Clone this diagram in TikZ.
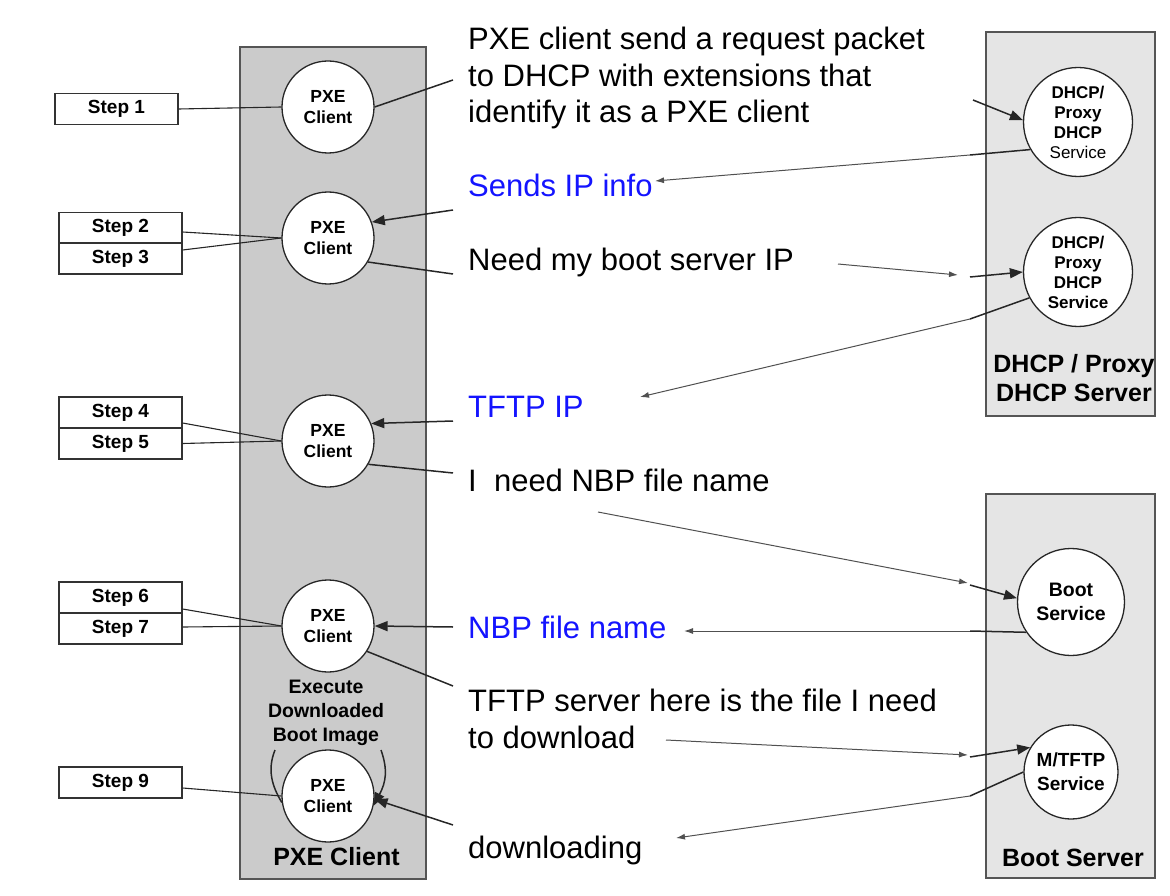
\documentclass[tikz,border=0pt]{standalone}
\usepackage{fontspec}
\setmainfont{Liberation Sans}
\usetikzlibrary{arrows.meta,shapes.geometric,calc}
\definecolor{pxefill}{HTML}{CBCBCB}
\definecolor{srvfill}{HTML}{E5E5E5}
\definecolor{boxline}{HTML}{555555}
\definecolor{msgblue}{HTML}{1414FF}
\definecolor{greyln}{HTML}{505050}
\tikzset{
  panel/.style={draw=boxline, line width=1.5pt},
  client/.style={circle, draw=black!85, fill=white, line width=1.3pt, minimum size=92pt, inner sep=0pt, align=center, font=\bfseries\fontsize{17.5}{21}\selectfont},
  svc/.style={circle, draw=black!85, fill=white, line width=1.3pt, inner sep=0pt, align=center},
  stepbox/.style={draw=black!80, fill=white, line width=1.3pt, minimum width=123pt, minimum height=31pt, inner sep=0pt, font=\bfseries\fontsize{19}{21}\selectfont},
  msg/.style={anchor=base west, inner sep=0pt, font=\fontsize{31}{36}\selectfont},
  bluemsg/.style={msg, text=msgblue},
  plabel/.style={anchor=base, inner sep=0pt, font=\bfseries\fontsize{25}{28}\selectfont},
  steplink/.style={line width=1.1pt, black!85},
  link/.style={line width=1.5pt, black!85},
  larrow/.style={link, -{Triangle[length=13pt,width=10pt]}},
  garrow/.style={line width=1pt, greyln, -{Latex[length=9pt,width=6pt]}},
}
\begin{document}
\begin{tikzpicture}[x=1pt,y=-1pt]
\useasboundingbox (0,0) rectangle (1170,896);
% panels
\draw[panel, fill=pxefill] (240,47) rectangle (426,879);
\draw[panel, fill=srvfill] (986,32) rectangle (1155,416);
\draw[panel, fill=srvfill] (986,494) rectangle (1155,878);
% panel labels
\node[plabel] (lpxe) at (336.5,865) {PXE Client};
\node[plabel] (ldhcp1) at (1074,372) {DHCP / Proxy};
\node[plabel] (ldhcp2) at (1074,401) {DHCP Server};
\node[plabel] (lboot) at (1073,866) {Boot Server};
\node[inner sep=0pt, align=center, font=\bfseries\fontsize{19.5}{24}\selectfont, anchor=north] (exec) at (326,680) {Execute\\Downloaded\\Boot Image};
% client circles
\node[client] (c1) at (328,107) {PXE\\Client};
\node[client] (c2) at (328,238) {PXE\\Client};
\node[client] (c3) at (328,441) {PXE\\Client};
\node[client] (c4) at (328,626) {PXE\\Client};
\node[client] (c5) at (328,796) {PXE\\Client};
% server circles
\node[svc, minimum size=109pt, font=\bfseries\fontsize{17}{20}\selectfont] (d1) at (1078,122) {DHCP/\\Proxy\\DHCP\\{\mdseries Service}};
\node[svc, minimum size=109pt, font=\bfseries\fontsize{17}{20}\selectfont] (d2) at (1078,272) {DHCP/\\Proxy\\DHCP\\Service};
\node[svc, minimum size=107pt, font=\bfseries\fontsize{19.5}{24}\selectfont] (boot) at (1071,602) {Boot\\Service};
\node[svc, minimum size=94pt, font=\bfseries\fontsize{19}{24}\selectfont] (mtftp) at (1071,772) {M/TFTP\\Service};
% steps
\node[stepbox] (s1) at (116.5,109) {Step 1};
\node[stepbox] (s2) at (120.5,228) {Step 2};
\node[stepbox] (s3) at (120.5,258.5) {Step 3};
\node[stepbox] (s4) at (120.5,412.5) {Step 4};
\node[stepbox] (s5) at (120.5,443.5) {Step 5};
\node[stepbox] (s6) at (120.5,597.5) {Step 6};
\node[stepbox] (s7) at (120.5,628.5) {Step 7};
\node[stepbox] (s9) at (120.5,782.5) {Step 9};
\draw[steplink] (s1.east) -- (c1.west);
\draw[steplink] ($(s2.east)+(0,4)$) -- (c2.west);
\draw[steplink] ($(s3.east)+(0,-8.5)$) -- (c2.west);
\draw[steplink] ($(s4.east)+(0,10.5)$) -- (c3.west);
\draw[steplink] (s5.east) -- (c3.west);
\draw[steplink] ($(s6.east)+(0,11.5)$) -- (c4.west);
\draw[steplink] ($(s7.east)+(0,-1.5)$) -- (c4.west);
\draw[steplink] ($(s9.east)+(0,5.5)$) -- (c5.west);
% messages
\node[msg] (m1a) at (468,50) {PXE client send a request packet};
\node[msg] (m1b) at (468,87) {to DHCP with extensions that};
\node[msg] (m1c) at (468,123) {identify it as a PXE client};
\node[bluemsg] (m2) at (468,197) {Sends IP info};
\node[msg] (m3) at (468,270) {Need my boot server IP};
\node[bluemsg] (m4) at (468,417) {TFTP IP};
\node[msg] (m5) at (468,491) {I~~need NBP file name};
\node[bluemsg] (m6) at (468,638) {NBP file name};
\node[msg] (m7a) at (468,711) {TFTP server here is the file I need};
\node[msg] (m7b) at (468,748) {to download};
\node[msg] (m8) at (468,858) {downloading};
% free-end coordinates near the texts
\coordinate (a1) at (453,80);
\coordinate (a2i) at (453,210);
\coordinate (a2o) at (453,274);
\coordinate (a3i) at (453,421);
\coordinate (a3o) at (453,473);
\coordinate (a4i) at (453,627);
\coordinate (a4o) at (453,686);
\coordinate (a5i) at (453,825);
\coordinate (b1) at (973,100);
\coordinate (b2) at (970,155);
\coordinate (b2t) at (655,181);
\coordinate (b3s) at (838,264);
\coordinate (b3e) at (958,275);
\coordinate (b3) at (970,277);
\coordinate (b4) at (970,319);
\coordinate (b4t) at (640,397);
\coordinate (b5s) at (598,512);
\coordinate (b5e) at (968,583);
\coordinate (b5) at (970,585);
\coordinate (b6) at (970,631);
\coordinate (b6t) at (684,631);
\coordinate (b7s) at (666,740);
\coordinate (b7e) at (968,755);
\coordinate (b7) at (970,757);
\coordinate (b8) at (970,796);
\coordinate (b8t) at (676,838);
% client side links
\draw[link] (c1.east) -- (a1);
\draw[larrow] (a2i) -- (c2.20);
\draw[link] (c2.-31) -- (a2o);
\draw[larrow] (a3i) -- (c3.22);
\draw[link] (c3.-30) -- (a3o);
\draw[larrow] (a4i) -- (c4.east);
\draw[link] (c4.-33) -- (a4o);
\draw[larrow] (a5i) -- (c5.-4);
% execute loop
\coordinate (l1) at (275,750);
\coordinate (r1) at (381,750);
\draw[link] (l1) .. controls (267,770) and (272,786) .. (c5.188);
\draw[larrow] (r1) .. controls (388,770) and (386,782) .. (c5.-12);
% server side links
\draw[larrow] (b1) -- (d1.178);
\draw[link] (d1.210) -- (b2);
\draw[garrow] (b2) -- (b2t);
\draw[garrow] (b3s) -- (b3e);
\draw[larrow] (b3) -- (d2.180);
\draw[link] (d2.208) -- (b4);
\draw[garrow] (b4) -- (b4t);
\draw[garrow] (b5s) -- (b5e);
\draw[larrow] (b5) -- (boot.176);
\draw[link] (boot.214) -- (b6);
\draw[garrow] (b6) -- (b6t);
\draw[garrow] (b7s) -- (b7e);
\draw[larrow] (b7) -- (mtftp.149);
\draw[link] (mtftp.180) -- (b8);
\draw[garrow] (b8) -- (b8t);
\end{tikzpicture}
\end{document}
